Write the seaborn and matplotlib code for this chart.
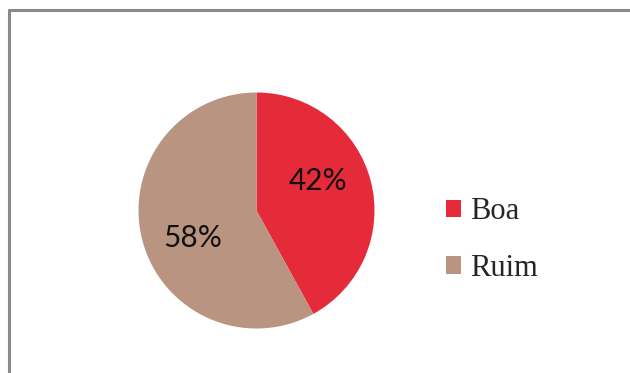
import matplotlib
matplotlib.use("Agg")
import matplotlib.pyplot as plt
from matplotlib.lines import Line2D
from matplotlib.patches import Rectangle
import seaborn as sns

categories = ["Boa", "Ruim"]
shares = [42, 58]
colors = ["#E52A3A", "#B89481"]

sns.set_theme(style="white")
plt.rcParams["font.family"] = ["Lato", "DejaVu Sans"]

W, H = 630, 373
fig = plt.figure(figsize=(W / 100, H / 100), dpi=100)
fig.patch.set_facecolor("white")

# frame: only the top and left edges fall inside the canvas
fig.add_artist(Line2D([9 / W, 9 / W], [0, 1 - 10 / H], transform=fig.transFigure,
                      color="#8A8A8A", lw=2.2))
fig.add_artist(Line2D([9 / W, 1], [1 - 10 / H, 1 - 10 / H], transform=fig.transFigure,
                      color="#8A8A8A", lw=2.2))

cx, cy, r = 256.5, 210.5, 118
ax = fig.add_axes([(cx - r) / W, (H - cy - r) / H, 2 * r / W, 2 * r / H])
wedges, texts, autotexts = ax.pie(
    shares, colors=colors, startangle=90, counterclock=False,
    autopct=lambda p: f"{p:.0f}%", pctdistance=0.59,
    wedgeprops=dict(linewidth=0), textprops=dict(fontsize=21.5, color="#111111"),
)
ax.set_xlim(-1, 1)
ax.set_ylim(-1, 1)
ax.set_aspect("equal")

# label placement inside each slice
autotexts[0].set_position((0.52, 0.25))
autotexts[1].set_position((-0.54, -0.23))

handles = [Rectangle((0, 0), 1, 1, facecolor=c, edgecolor="none") for c in colors]
fig.legend(handles, categories, loc="center left", bbox_to_anchor=(446 / W, 1 - 240 / H),
           frameon=False, handlelength=0.5, handleheight=0.5, handletextpad=0.3,
           labelspacing=0.9, borderpad=0, borderaxespad=0,
           prop=dict(family="Liberation Serif", size=22))

fig.savefig("out.png", dpi=100, facecolor="white")
